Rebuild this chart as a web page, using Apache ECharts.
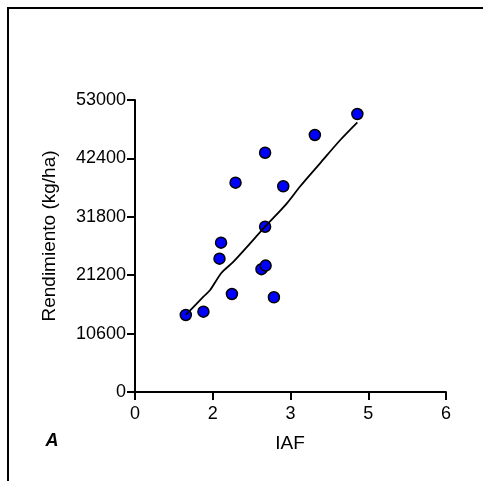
<!DOCTYPE html>
<html>
<head>
<meta charset="utf-8">
<script src="https://cdn.jsdelivr.net/npm/echarts@6/dist/echarts.min.js"></script>
<style>
html,body{margin:0;padding:0;background:#fff;}
#chart{width:483px;height:481px;}
</style>
</head>
<body>
<div id="chart"></div>
<script>
// Observed points: IAF vs Rendimiento (kg/ha)
const iaf = [0.98, 1.32, 1.87, 2.68, 2.44, 2.52, 1.63, 1.66, 2.51, 1.94, 2.86, 2.51, 3.47, 4.29];
const rendimiento = [13980, 14580, 17790, 17190, 22300, 22950, 24200, 27100, 30000, 37990, 37340, 43430, 46650, 50460];

// Fitted curve
const fitX = [0.98, 1.32, 1.45, 1.67, 1.90, 2.51, 2.93, 3.18, 3.57, 3.96, 4.29];
const fitY = [13980, 17300, 18510, 21650, 23650, 30000, 34250, 37260, 41510, 45740, 48950];

// Axis ticks
const xTickLabels = ['0', '2', '3', '5', '6'];
const yTickLabels = ['0', '10600', '21200', '31800', '42400', '53000'];

const points = iaf.map((x, i) => [x, rendimiento[i]]);
const fitLine = fitX.map((x, i) => [x, fitY[i]]);

const chart = echarts.init(document.getElementById('chart'), null, {renderer: 'canvas'});
const font = 'Liberation Sans, Arial, Helvetica, sans-serif';
chart.setOption({
  animation: false,
  backgroundColor: '#ffffff',
  grid: {left: 135, top: 100, right: 37, bottom: 89, containLabel: false},
  xAxis: {
    type: 'value', min: 0, max: 6, interval: 1.5,
    axisLine: {lineStyle: {color: '#000', width: 2}},
    axisTick: {show: true, length: 8, lineStyle: {color: '#000', width: 2}},
    axisLabel: {color: '#000', fontSize: 18, fontFamily: font, margin: 13,
      formatter: (v, idx) => xTickLabels[idx]},
    splitLine: {show: false}
  },
  yAxis: {
    type: 'value', min: 0, max: 53000, interval: 10600,
    axisLine: {show: true, lineStyle: {color: '#000', width: 2}},
    axisTick: {show: true, length: 8, lineStyle: {color: '#000', width: 2}},
    axisLabel: {color: '#000', fontSize: 18, fontFamily: font, margin: 9,
      formatter: (v, idx) => yTickLabels[idx]},
    splitLine: {show: false}
  },
  series: [
    {
      type: 'scatter', data: points, symbol: 'circle', symbolSize: 11,
      itemStyle: {color: '#0000ff', borderColor: '#000', borderWidth: 1.5, opacity: 1},
      z: 2
    },
    {
      type: 'line', data: fitLine, showSymbol: false, smooth: 0.3,
      lineStyle: {color: '#000', width: 1.8}, z: 3
    }
  ],
  graphic: [
    {type: 'rect', shape: {x: 8, y: 8, width: 700, height: 700},
      style: {fill: null, stroke: '#000', lineWidth: 2}, silent: true},
    {type: 'text', x: 290, y: 444,
      style: {text: 'IAF', fontSize: 19, fontFamily: font, fill: '#000', align: 'center', verticalAlign: 'middle'}},
    {type: 'text', x: 50, y: 236, rotation: Math.PI / 2,
      style: {text: 'Rendimiento (kg/ha)', fontSize: 19, fontFamily: font, fill: '#000', align: 'center', verticalAlign: 'middle'}},
    {type: 'text', x: 52, y: 441,
      style: {text: 'A', fontSize: 18, fontWeight: 'bold', fontStyle: 'italic', fontFamily: font, fill: '#000', align: 'center', verticalAlign: 'middle'}}
  ]
});
</script>
</body>
</html>
